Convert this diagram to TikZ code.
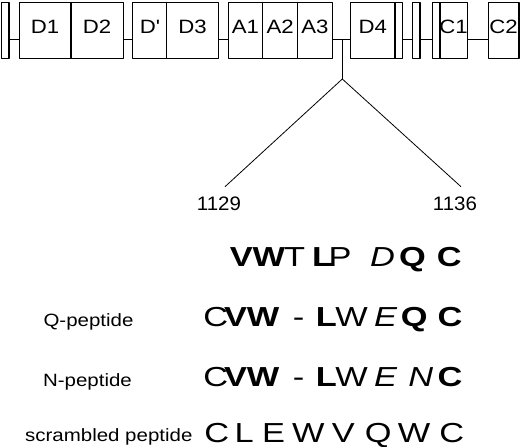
\documentclass[tikz,border=0pt]{standalone}
\usepackage{fontspec}
\setmainfont{Liberation Sans}[FakeStretch=1.15]
\newfontfamily\numfont{Liberation Sans}[FakeStretch=1.05]
\newfontfamily\aafont{Liberation Sans}[FakeStretch=1.25]
\begin{document}
\begin{tikzpicture}[x=1pt, y=-1pt, line join=round,
	dom/.style={draw, line width=1.1pt, inner sep=0pt, outer sep=0pt, minimum height=56pt,
		text height=13.8pt, text depth=7.8pt, font=\fontsize{19.3}{21}\selectfont},
	link/.style={line width=1.1pt},
	fan/.style={line width=0.8pt},
	num/.style={anchor=base, inner sep=0pt, font=\numfont\fontsize{19.5}{21}\selectfont},
	pep/.style={anchor=base, inner sep=0pt, font=\fontsize{17.8}{20}\selectfont},
	aa/.style={anchor=base, inner sep=0pt, font=\aafont\fontsize{27.5}{30}\selectfont}]
	\useasboundingbox (0,0) rectangle (520,447);
	% Domaenen: Name/links/rechts/Text
	\foreach \n/\l/\r/\t in {s0/1.7/9/{}, d1/19.3/71/D1, d2/71/123.3/D2, dp/132.7/166.7/D\textquotesingle,
		d3/166.7/218.3/D3, a1/228.3/262.7/A1, a2/262.7/297.7/A2, a3/297.7/332.3/A3, d4/350.7/395/D4,
		s1/395/402.3/{}, s2/412.3/420/{}, s3/432.7/440/{}, c1/440/467.3/C1, c2/488.3/519/C2}
		\node[dom, minimum width={(\r-\l)*1pt}] (\n) at ({(\l+\r)/2},30.3) {\t};
	\foreach \a/\b in {s0/d1, d2/dp, d3/a1, a3/d4, s1/s2, s2/s3, c1/c2}
		\draw[link] ([yshift=-9pt]\a.east) -- ([yshift=-9pt]\b.west);
	% Ausschnitt 1129-1136
	\coordinate (top) at (342.3,39.3);
	\coordinate (fork) at (342.3,79);
	\coordinate (lo) at (225,186.7);
	\coordinate (hi) at (461,186.7);
	\draw[link] (top) -- (fork);
	\draw[fan] (lo) -- (fork) -- (hi);
	\node[num] (n1129) at (219,210.5) {1129};
	\node[num] (n1136) at (455,210.5) {1136};
	% Sequenzen
	\foreach \x/\t [count=\i] in {257.5/\textbf{VW}, 294.7/T, 322.5/\textbf{L}, 340/P, 382.5/\textit{D}, 412.5/\textbf{Q}, 449.2/\textbf{C}}
		\node[aa] (w\i) at (\x,266.5) {\t};
	\foreach \x/\t [count=\i] in {215.8/C, 251.7/\textbf{VW}, 298.7/-, 326.3/\textbf{L}, 351.7/W, 385.8/\textit{E}, 414.2/\textbf{Q}, 450/\textbf{C}}
		\node[aa] (q\i) at (\x,326.5) {\t};
	\foreach \x/\t [count=\i] in {215.8/C, 251.7/\textbf{VW}, 298.7/-, 326.3/\textbf{L}, 351.7/W, 385.8/\textit{E}, 420.8/\textit{N}, 450/\textbf{C}}
		\node[aa] (m\i) at (\x,386) {\t};
	\foreach \x/\t [count=\i] in {216.7/C, 244.2/L, 273.7/E, 308.3/W, 343.3/V, 378.3/Q, 414.2/W, 451.7/C}
		\node[aa] (r\i) at (\x,442) {\t};
	\node[pep] (qpep) at (88.5,326) {Q-peptide};
	\node[pep] (npep) at (87.5,386) {N-peptide};
	\node[pep] (rpep) at (108.8,441) {scrambled peptide};
\end{tikzpicture}
\end{document}
